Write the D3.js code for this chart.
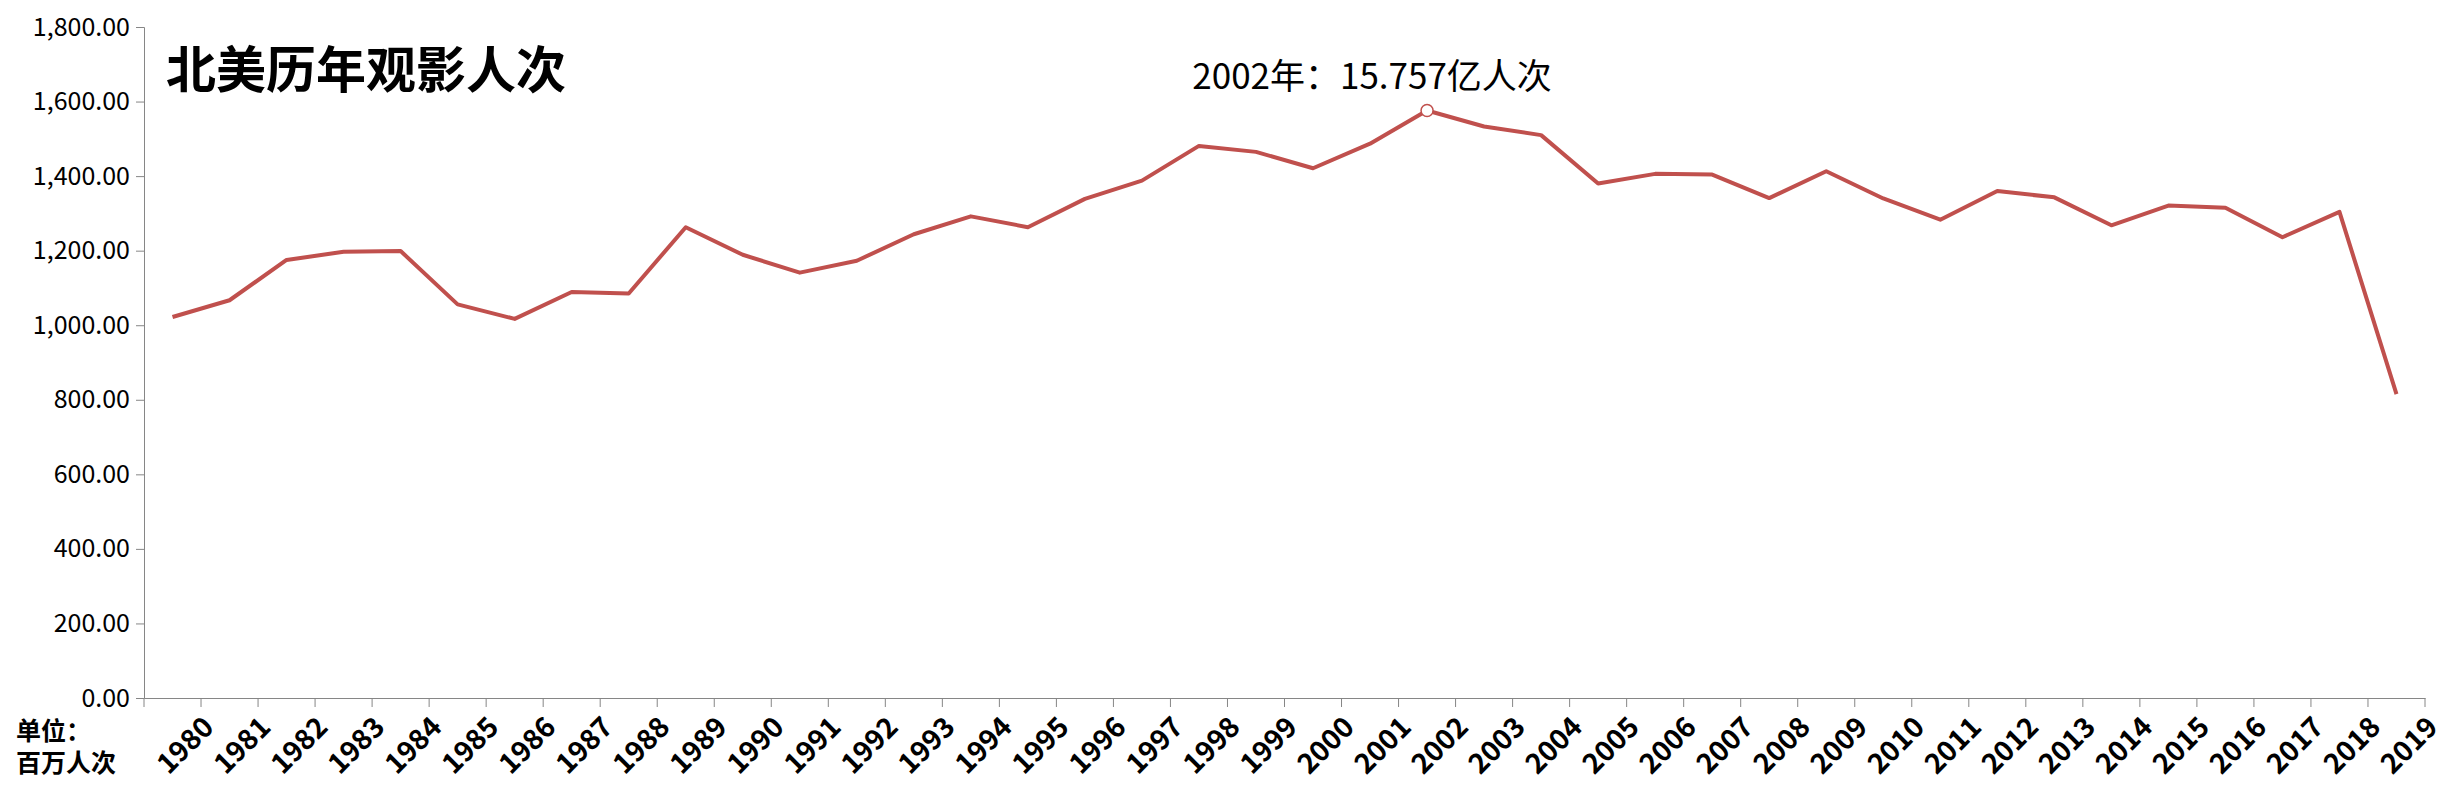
<!DOCTYPE html>
<html>
<head>
<meta charset="utf-8">
<script src="https://cdn.jsdelivr.net/npm/d3@7"></script>
<style>
  body { margin: 0; background: #fff; }
  text { font-family: "Noto Sans CJK SC", "Noto Sans", sans-serif; }
</style>
</head>
<body>
<svg id="chart"></svg>
<script>
const years = d3.range(1980, 2020).map(String);
const admissions = [1022, 1067, 1175, 1197, 1199, 1056, 1017, 1089, 1085, 1263,
  1189, 1141, 1173, 1244, 1292, 1263, 1339, 1388, 1481, 1465,
  1421, 1487, 1576, 1533, 1510, 1380, 1406, 1404, 1341, 1413,
  1340, 1283, 1360, 1343, 1268, 1321, 1315, 1236, 1304, 815];
const yTicks = [0, 200, 400, 600, 800, 1000, 1200, 1400, 1600, 1800];
const title = "北美历年观影人次";
const peakLabel = "2002年：15.757亿人次";
const peakYear = "2002";

const data = years.map((y, i) => ({ year: y, value: admissions[i] }));

const svgWidth = 2449, svgHeight = 798;
const margin = { top: 27, right: 24, bottom: 100, left: 144 };
const width = svgWidth - margin.left - margin.right;
const height = svgHeight - margin.top - margin.bottom;

const svg = d3.select('#chart').attr("width", svgWidth).attr("height", svgHeight);
const g = svg.append('g').attr("transform", "translate(" + margin.left + "," + margin.top + ")");

const x = d3.scaleBand().domain(years).range([0, width]);
const y = d3.scaleLinear().domain([0, 1800]).range([height, 0]);

// y axis
const yAxis = g.append("g")
  .call(d3.axisLeft(y).tickValues(yTicks).tickSize(8).tickFormat(d3.format(",.2f")));
yAxis.selectAll("line, path").attr("stroke", "#868686");
yAxis.selectAll("text").attr("font-size", 25).attr("fill", "#000").attr("x", -14);

// x axis with ticks at band edges
const xAxis = g.append("g").attr("transform", "translate(0," + height + ")")
  .call(d3.axisBottom(x).tickSize(0).tickFormat(""));
xAxis.select(".domain").attr("stroke", "#868686");
g.append("g").selectAll("line")
  .data(years.concat(["end"]))
  .join("line")
  .attr("x1", (d, i) => i * x.step()).attr("x2", (d, i) => i * x.step())
  .attr("y1", height).attr("y2", height + 9)
  .attr("stroke", "#868686");

g.append("g").selectAll("text")
  .data(years)
  .join("text")
  .attr("transform", d => "translate(" + (x(d) + x.bandwidth() / 2 + 28) + "," + (height + 16) + ") rotate(-45)")
  .attr("text-anchor", "end")
  .attr("dy", "0.75em")
  .attr("font-size", 28)
  .attr("font-weight", "bold")
  .text(d => d);

// line
const line = d3.line()
  .x(d => x(d.year) + x.bandwidth() / 2)
  .y(d => y(d.value));

g.append("path")
  .datum(data)
  .attr("fill", "none")
  .attr("stroke", "#c0504d")
  .attr("stroke-width", 4)
  .attr("stroke-linejoin", "round")
  .attr("d", line);

const peak = data.find(d => d.year === peakYear);
g.append("circle")
  .attr("cx", x(peak.year) + x.bandwidth() / 2)
  .attr("cy", y(peak.value))
  .attr("r", 6)
  .attr("fill", "#fff")
  .attr("stroke", "#c0504d")
  .attr("stroke-width", 1.5);

g.append("text")
  .attr("x", x(peak.year) + x.bandwidth() / 2 - 55)
  .attr("y", y(peak.value) - 22)
  .attr("text-anchor", "middle")
  .attr("font-size", 35)
  .text(peakLabel);

// title
svg.append("text")
  .attr("x", 166).attr("y", 88)
  .attr("font-size", 50)
  .attr("font-weight", "bold")
  .text(title);

// unit label
svg.append("text").attr("x", 16).attr("y", 740).attr("font-size", 25).attr("font-weight", "bold").text("单位：");
svg.append("text").attr("x", 16).attr("y", 772).attr("font-size", 25).attr("font-weight", "bold").text("百万人次");
</script>
</body>
</html>
